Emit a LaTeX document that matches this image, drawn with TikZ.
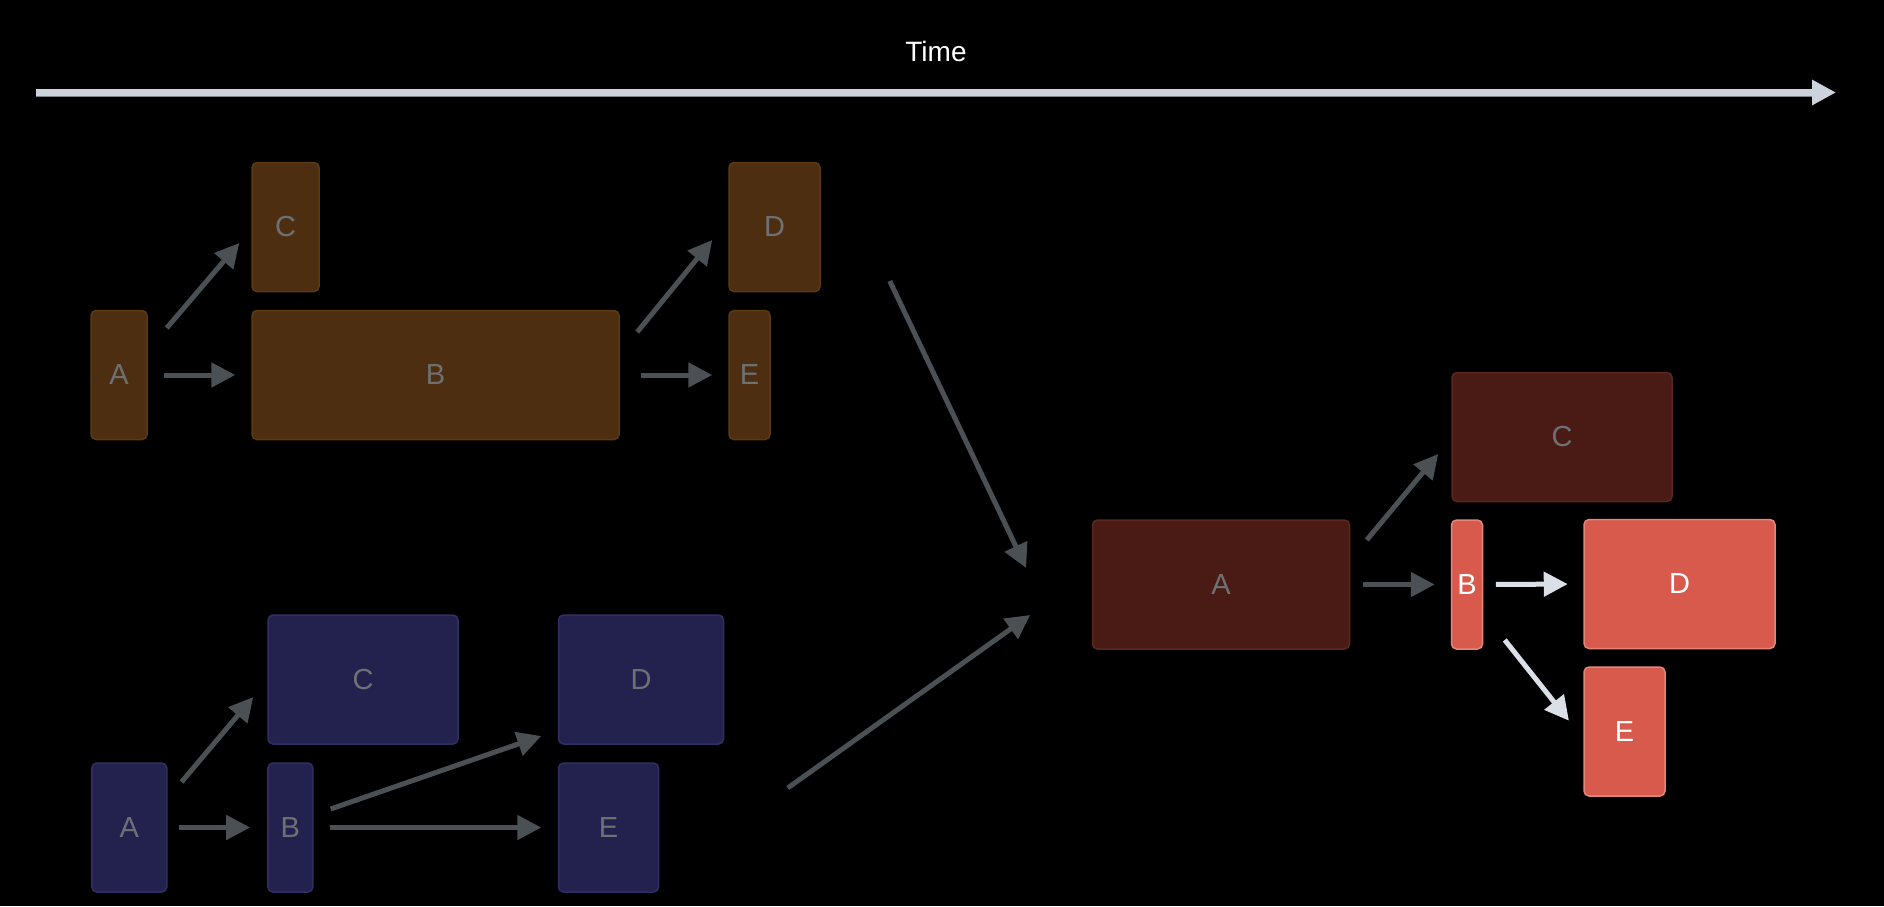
\documentclass[tikz,border=0pt]{standalone}
\usepackage{fontspec}
\setmainfont{Liberation Sans}
\usetikzlibrary{positioning,arrows.meta,calc}

\definecolor{orangefill}{HTML}{4E2E10}
\definecolor{orangeline}{HTML}{5C3A16}
\definecolor{bluefill}{HTML}{23224F}
\definecolor{blueline}{HTML}{302F63}
\definecolor{darkredfill}{HTML}{4A1A14}
\definecolor{darkredline}{HTML}{5C271D}
\definecolor{hotfill}{HTML}{D85A4C}
\definecolor{hotline}{HTML}{E4867A}
\definecolor{labelgray}{HTML}{6E7174}
\definecolor{arrowgray}{HTML}{4B5054}
\definecolor{arrowwhite}{HTML}{DBE0E8}
\definecolor{axiscolor}{HTML}{CDD3DD}
\definecolor{axisedge}{HTML}{7C848E}

\begin{document}
\begin{tikzpicture}[x=1pt, y=-1pt]
    		\tikzstyle{job} = [rectangle, rounded corners=5pt, inner sep=0pt, line width=1.5pt, minimum height=129pt, text=labelgray, font=\fontsize{29}{31}\selectfont]
    		\tikzstyle{orangejob} = [job, fill=orangefill, draw=orangeline]
    		\tikzstyle{bluejob} = [job, fill=bluefill, draw=blueline]
    		\tikzstyle{darkjob} = [job, fill=darkredfill, draw=darkredline]
    		\tikzstyle{hotjob} = [job, fill=hotfill, draw=hotline, text=white]
    		\tikzstyle{flow} = [line width=5pt, draw=arrowgray, -{Triangle[length=24pt, width=24pt]}]
    		\tikzstyle{hotflow} = [flow, draw=arrowwhite]
		\fill[black] (0,0) rectangle (1884,906);
		\useasboundingbox (0,0) rectangle (1884,906);

		% time axis
		\node[text=white, font=\fontsize{28}{30}\selectfont] (time) at (936,51) {Time};
		\coordinate (tstart) at (36,92.5);
		\coordinate (tend) at (1836,92.5);
		\draw[line width=7pt, draw=axiscolor, -{Triangle[length=24pt, width=24pt]}] (tstart) -- (tend);
		\draw[line width=1pt, draw=axisedge] ($(tstart)+(0,3.5)$) -- ($(tend)+(-24,3.5)$);

		% first run
		\node[orangejob, minimum width=56pt] (tA) at (119,375) {A};
		\node[orangejob, minimum width=367pt] (tB) at (435.5,375) {B};
		\node[orangejob, minimum width=67pt] (tC) at (285.5,227) {C};
		\node[orangejob, minimum width=91pt] (tD) at (774.5,227) {D};
		\node[orangejob, minimum width=41pt] (tE) at (749.5,375) {E};
		\draw[flow] ($(tA.east)+(19,-47)$) -- ($(tC.west)+(-12,16)$);
		\draw[flow, shorten <=16pt, shorten >=16pt] (tA.east) -- (tB.west);
		\draw[flow] ($(tB.east)+(17.5,-43)$) -- ($(tD.west)+(-16,13)$);
		\draw[flow, shorten <=21pt, shorten >=16pt] (tB.east) -- (tE.west);

		% second run
		\node[bluejob, minimum width=75pt] (bA) at (129.3,827.5) {A};
		\node[bluejob, minimum width=45pt] (bB) at (290.4,827.5) {B};
		\node[bluejob, minimum width=190pt] (bC) at (363,679.5) {C};
		\node[bluejob, minimum width=165pt] (bD) at (641,679.5) {D};
		\node[bluejob, minimum width=100pt] (bE) at (608.5,827.5) {E};
		\draw[flow] ($(bA.east)+(14,-45.5)$) -- ($(bC.west)+(-14,17.5)$);
		\draw[flow, shorten <=11pt, shorten >=17pt] (bA.east) -- (bB.west);
		\draw[flow] ($(bB.east)+(17,-18.5)$) -- ($(bD.west)+(-16.5,56.5)$);
		\draw[flow, shorten <=16pt, shorten >=16.5pt] (bB.east) -- (bE.west);

		% merged run
		\node[darkjob, minimum width=257pt] (rA) at (1221,584.5) {A};
		\node[hotjob, minimum width=31pt] (rB) at (1467,584.5) {B};
		\node[darkjob, minimum width=220pt] (rC) at (1562,437) {C};
		\node[hotjob, minimum width=191pt] (rD) at (1679.5,584) {D};
		\node[hotjob, minimum width=81pt] (rE) at (1624.5,731.5) {E};
		\draw[flow] ($(tD.east)+(69,54)$) -- ($(rA.west)+(-65.6,-16.5)$);
		\draw[flow] ($(bE.east)+(128.5,-39.5)$) -- ($(rA.west)+(-61.6,30.5)$);
		\draw[flow] ($(rA.east)+(16.5,-44.5)$) -- ($(rC.west)+(-13,17)$);
		\draw[flow, shorten <=12.5pt, shorten >=16pt] (rA.east) -- (rB.west);
		\draw[hotflow, shorten <=12.5pt, shorten >=15.5pt] (rB.east) -- (rD.west);
		\draw[hotflow] ($(rB.east)+(21.5,55.5)$) -- ($(rE.west)+(-14.3,-10.8)$);
		\end{tikzpicture}
\end{document}
